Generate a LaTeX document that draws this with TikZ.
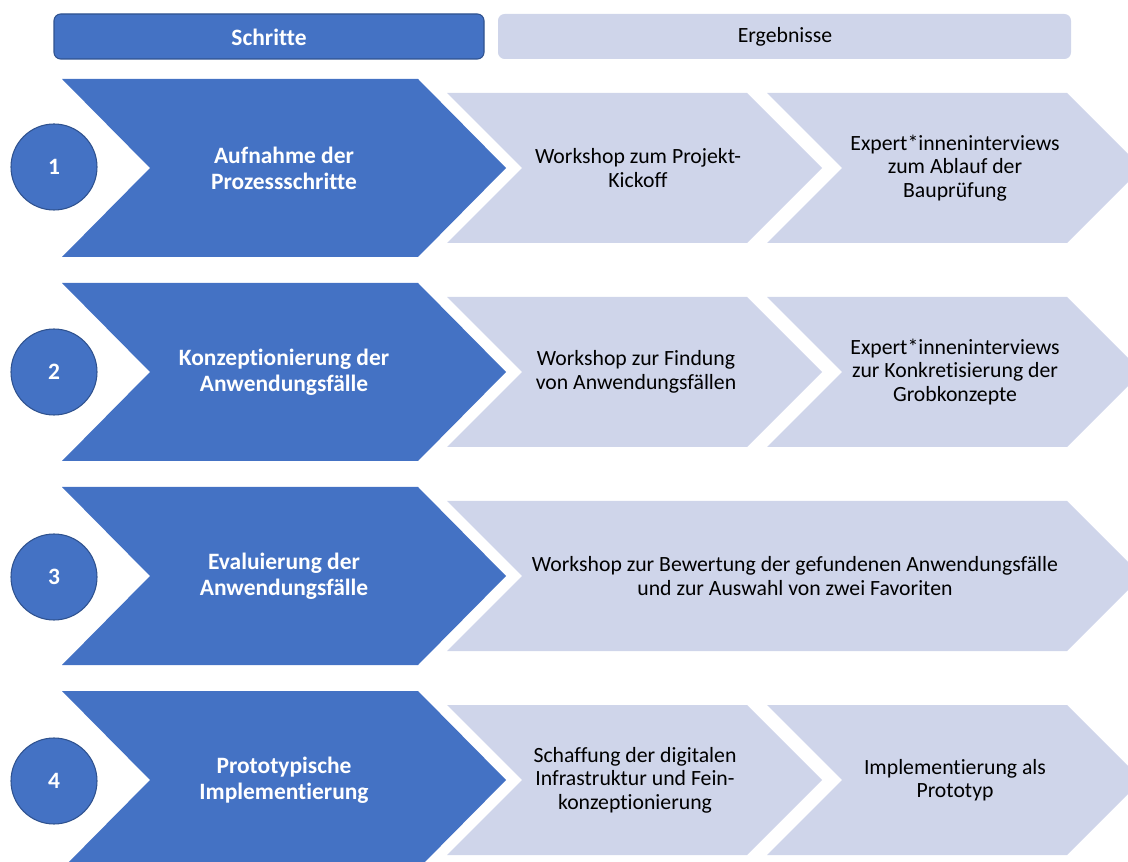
\documentclass[tikz,border=0pt]{standalone}
\usepackage{fontspec}
\setmainfont{Carlito}[Ligatures={CommonOff,ContextualOff}, RawFeature={-liga;-clig;-calt}]
\definecolor{stepblue}{HTML}{4472C4}
\definecolor{stepedge}{HTML}{2F528F}
\definecolor{reslight}{HTML}{CFD5EA}
\tikzset{
  stepchev/.style={fill=stepblue},
  reschev/.style={fill=reslight},
  stptext/.style={text=white, font=\fontsize{17.6}{19.5}\selectfont\bfseries, align=center},
  restext/.style={text=black, font=\fontsize{16.3}{17.6}\selectfont, align=center},
  numcirc/.style={circle, fill=stepblue, draw=stepedge, line width=0.8pt, minimum size=64.5pt, inner sep=0pt,
    text=white, font=\fontsize{17.6}{19.5}\selectfont\bfseries}
}
\begin{document}
\begin{tikzpicture}[x=0.75pt, y=-0.75pt]
\useasboundingbox (0,0) rectangle (1128,862);
\clip (0,0) rectangle (1128,862);
% headers
\filldraw[fill=stepblue, draw=stepedge, line width=0.8pt, rounded corners=5pt] (54,14) rectangle (484,59);
\fill[reslight, rounded corners=5pt] (498,14) rectangle (1071,59);
\node[text=white, font=\fontsize{17.6}{19.5}\selectfont\bfseries] (hstep) at (269,37) {Schritte};
\node[font=\fontsize{16.3}{17.6}\selectfont] (hres) at (785,37) {Ergebnisse};
% row 1
\fill[stepchev] (62,79) -- (418,79) -- (506,168) -- (418,257) -- (62,257) -- (150,168) -- cycle;
\fill[reschev] (447,93) -- (747,93) -- (822,168) -- (747,243) -- (447,243) -- (522,168) -- cycle;
\fill[reschev] (767,93) -- (1067,93) -- (1142,168) -- (1067,243) -- (767,243) -- (842,168) -- cycle;
\node[numcirc] (num1) at (54,167) {1};
\node[stptext] (stp1) at (284,168) {Aufnahme der\\Prozessschritte};
\node[restext] (res1a) at (638,168) {Workshop zum Projekt-\\Kickoff};
\node[restext] (res1b) at (955,168) {Expert*inneninterviews\\zum Ablauf der\\Bauprüfung};
% row 2
\fill[stepchev] (62,283) -- (418,283) -- (506,372) -- (418,461) -- (62,461) -- (150,372) -- cycle;
\fill[reschev] (447,297) -- (747,297) -- (822,372) -- (747,447) -- (447,447) -- (522,372) -- cycle;
\fill[reschev] (767,297) -- (1067,297) -- (1142,372) -- (1067,447) -- (767,447) -- (842,372) -- cycle;
\node[numcirc] (num2) at (54,372) {2};
\node[stptext] (stp2) at (284,372) {Konzeptionierung der\\Anwendungsfälle};
\node[restext] (res2a) at (636,372) {Workshop zur Findung\\von Anwendungsfällen};
\node[restext] (res2b) at (955,372) {Expert*inneninterviews\\zur Konkretisierung der\\Grobkonzepte};
% row 3
\fill[stepchev] (62,487) -- (418,487) -- (506,576) -- (418,665) -- (62,665) -- (150,576) -- cycle;
\fill[reschev] (447,501) -- (1067,501) -- (1142,576) -- (1067,651) -- (447,651) -- (522,576) -- cycle;
\node[numcirc] (num3) at (54,577) {3};
\node[stptext] (stp3) at (284,576) {Evaluierung der\\Anwendungsfälle};
\node[restext] (res3) at (795,576) {Workshop zur Bewertung der gefundenen Anwendungsfälle\\und zur Auswahl von zwei Favoriten};
% row 4
\fill[stepchev] (62,691) -- (418,691) -- (506,780) -- (418,869) -- (62,869) -- (150,780) -- cycle;
\fill[reschev] (447,705) -- (747,705) -- (822,780) -- (747,855) -- (447,855) -- (522,780) -- cycle;
\fill[reschev] (767,705) -- (1067,705) -- (1142,780) -- (1067,855) -- (767,855) -- (842,780) -- cycle;
\node[numcirc] (num4) at (54,781) {4};
\node[stptext] (stp4) at (284,780) {Prototypische\\Implementierung};
\node[restext] (res4a) at (635,780) {Schaffung der digitalen\\Infrastruktur und Fein-\\konzeptionierung};
\node[restext] (res4b) at (955,780) {Implementierung als\\Prototyp};
\end{tikzpicture}
\end{document}
